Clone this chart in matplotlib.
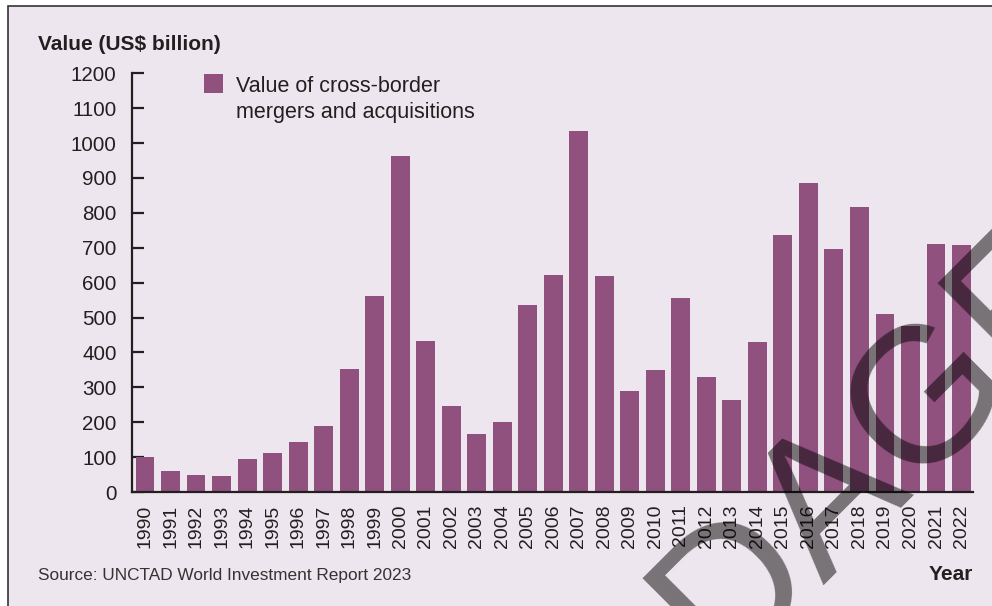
import matplotlib
matplotlib.use("Agg")
import matplotlib.pyplot as plt
from matplotlib.patches import Rectangle
import numpy as np

## cross-border M&A values, US$ billion ##
years = [str(y) for y in range(1990, 2023)]
values = [101, 61, 50, 47, 96, 113, 144, 190, 353, 563, 964, 434,
          247, 167, 201, 537, 623, 1035, 620, 290, 350, 557, 330, 263,
          430, 736, 887, 696, 816, 510, 475, 710, 707]
yticks = list(range(0, 1300, 100))

bar_col = "#91517f"
bg_col = "#eee6ee"
ink = "#231f20"

plt.rcParams["font.family"] = ["Liberation Sans", "DejaVu Sans"]

fig = plt.figure(figsize=(9.92, 6.06), dpi=100)
fig.patch.set_facecolor("white")

# panel background with frame (right/bottom edges run off the page)
W, H = 992, 606
fig.add_artist(Rectangle((8 / W, -0.05), 1.1, 1 - 6 / H + 0.05,
                         transform=fig.transFigure, facecolor=bg_col,
                         edgecolor="#333333", linewidth=1.2, zorder=-5))

ax = fig.add_axes([132 / W, 1 - 492 / H, (973 - 132) / W, (492 - 73.3) / H])
ax.set_facecolor("none")

x = np.arange(len(years))
ax.bar(x, values, width=0.74, color=bar_col, zorder=2)

ax.set_xlim(-0.51, 32.45)
ax.set_ylim(0, 1200)
ax.set_yticks(yticks)
ax.set_yticklabels([str(t) for t in yticks])
ax.set_xticks(x)
ax.set_xticklabels(years, rotation=90)

for s in ["top", "right"]:
    ax.spines[s].set_visible(False)
ax.spines["left"].set_linewidth(1.6)
ax.spines["bottom"].set_linewidth(1.6)
ax.spines["left"].set_color(ink)
ax.spines["bottom"].set_color(ink)

ax.tick_params(axis="y", direction="in", length=8.3, width=1.6, color=ink,
               pad=11, labelsize=14.8, labelcolor=ink)
ax.tick_params(axis="x", length=0, pad=9, labelsize=14, labelcolor=ink)

# legend drawn by hand: swatch + two-line label
fig.add_artist(Rectangle((204 / W, 1 - 93 / H), 19 / W, 19 / H,
                         transform=fig.transFigure, facecolor=bar_col,
                         edgecolor="none"))
fig.text(236 / W, 1 - 76 / H, "Value of cross-border\nmergers and acquisitions",
         ha="left", va="top", fontsize=15.5, color=ink, linespacing=1.3)

fig.text(38 / W, 1 - 35 / H, "Value (US$ billion)", ha="left", va="top",
         fontsize=15, fontweight="bold", color=ink)
fig.text(38 / W, 1 - 568 / H, "Source: UNCTAD World Investment Report 2023",
         ha="left", va="top", fontsize=12.4, color="#333333")
fig.text(973 / W, 1 - 565 / H, "Year", ha="right", va="top",
         fontsize=15, fontweight="bold", color=ink)

# watermark
fig.text(914.5 / W, 1 - 479.5 / H, "DAGE", rotation=45, rotation_mode="anchor",
         ha="center", va="baseline", fontsize=139, color="black", alpha=0.5,
         zorder=10)

plt.savefig("out.png", dpi=100, facecolor=fig.get_facecolor())
